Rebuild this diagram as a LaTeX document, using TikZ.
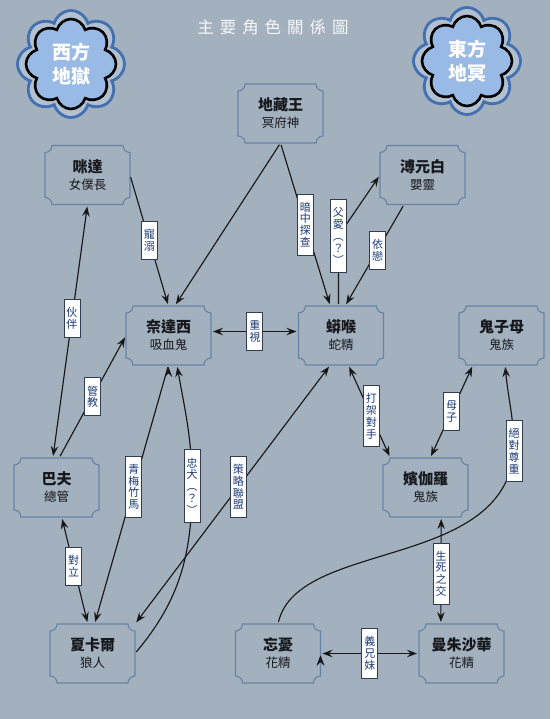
\documentclass[tikz,border=0pt]{standalone}
\usepackage{fontspec}
\setmainfont{Noto Sans CJK TC}
\usetikzlibrary{arrows.meta,shapes.symbols}
\definecolor{bgslate}{RGB}{163,176,190}
\definecolor{roleline}{RGB}{104,130,166}
\definecolor{rolename}{RGB}{22,24,28}
\definecolor{cloudout}{RGB}{66,112,176}
\definecolor{cloudband}{RGB}{178,192,208}
\definecolor{cloudfill}{RGB}{152,186,228}
\definecolor{lbltext}{RGB}{28,58,118}
\definecolor{lblline}{RGB}{50,60,80}
\definecolor{titlewhite}{RGB}{246,248,250}
\begin{document}
\begin{tikzpicture}[x=1pt,y=1pt,>={Stealth[length=10pt,width=7.5pt,inset=3.5pt]},
  role/.style={minimum width=85pt,minimum height=59pt,inner sep=0pt,outer sep=0pt,align=center,
    text=rolename,font=\fontsize{12.5}{17}\selectfont,
    append after command={\pgfextra{\draw[roleline,line width=1.1pt]
      (\tikzlastnode.north west) ++(7pt,0) -- ++(71pt,0)
      arc[start angle=180,end angle=270,radius=7pt] -- ++(0,-45pt)
      arc[start angle=90,end angle=180,radius=7pt] -- ++(-71pt,0)
      arc[start angle=0,end angle=90,radius=7pt] -- ++(0,45pt)
      arc[start angle=270,end angle=360,radius=7pt] -- cycle;}}},
  lbl/.style={draw=lblline,line width=0.8pt,fill=white,text=lbltext,inner xsep=2.5pt,inner ysep=8pt,
    align=center,font=\fontsize{11}{11.8}\selectfont},
  rel/.style={line width=1.15pt,draw=black!90,shorten >=2pt,shorten <=2pt},
  puffout/.style={cloud,cloud puffs=8,aspect=1,draw=cloudout,line width=2.8pt,fill=cloudband,
    minimum width=107pt,minimum height=107pt},
  puffin/.style={cloud,cloud puffs=8,aspect=1,draw=black,line width=2.6pt,fill=cloudfill,
    minimum width=90pt,minimum height=90pt,text=white,align=center,
    font=\bfseries\fontsize{19}{24}\selectfont}]
\fill[bgslate] (0,0) rectangle (550,-719);
\useasboundingbox (0,0) rectangle (550,-719);

% title and the two realms
\node[text=titlewhite,font=\fontsize{16.5}{16.5}\selectfont\addfontfeatures{LetterSpace=36}] (title) at (273,-27) {主要角色關係圖};
\node[puffout] (westring) at (71,-64) {};
\node[puffin] (west) at (71,-64) {西方\\地獄};
\node[puffout] (eastring) at (467,-61) {};
\node[puffin] (east) at (467,-61) {東方\\地冥};

% characters
\node[role] (mida) at (87.5,-175) {{\bfseries\fontsize{15}{17}\selectfont 咪達}\\女僕長};
\node[role] (dizang) at (280.5,-113.5) {{\bfseries\fontsize{15}{17}\selectfont 地藏王}\\冥府神};
\node[role] (buyuan) at (422.5,-175) {{\bfseries\fontsize{15}{17}\selectfont 溥元白}\\嬰靈};
\node[role] (naidaxi) at (168.5,-335.5) {{\bfseries\fontsize{15}{17}\selectfont 奈達西}\\吸血鬼};
\node[role] (manghou) at (341,-335.5) {{\bfseries\fontsize{15}{17}\selectfont 蟒喉}\\蛇精};
\node[role] (guizimu) at (501.5,-335.5) {{\bfseries\fontsize{15}{17}\selectfont 鬼子母}\\鬼族};
\node[role] (bafu) at (56.5,-487.5) {{\bfseries\fontsize{15}{17}\selectfont 巴夫}\\總管};
\node[role] (pinjia) at (425.5,-487.5) {{\bfseries\fontsize{15}{17}\selectfont 嬪伽羅}\\鬼族};
\node[role] (xiakaer) at (92.5,-653.5) {{\bfseries\fontsize{15}{17}\selectfont 夏卡爾}\\狼人};
\node[role] (wangyou) at (278,-653.5) {{\bfseries\fontsize{15}{17}\selectfont 忘憂}\\花精};
\node[role] (manzhu) at (461.5,-653.5) {{\bfseries\fontsize{15}{17}\selectfont 曼朱沙華}\\花精};

% relations
\path[rel,->] (mida.east) edge node[lbl] {寵\\溺} (naidaxi.north)
  (dizang.south) edge (naidaxi.78)
  (dizang.south) edge node[lbl] {暗\\中\\探\\查} (manghou.110)
  (buyuan.238) edge node[lbl,pos=0.45] {依\\戀} (manghou.82)
  (bafu.85) edge node[lbl] {管\\教} (naidaxi.west)
  (naidaxi.south) edge node[lbl,pos=0.47] {青\\梅\\竹\\馬} (xiakaer.86);
\path[rel,<->] ([yshift=4pt]naidaxi.east) edge node[lbl] {重\\視} ([yshift=4pt]manghou.west)
  (bafu.97) edge node[lbl,pos=0.55] {伙\\伴} (mida.south)
  (xiakaer.north east) edge node[lbl,pos=0.53] {策\\略\\聯\\盟} (manghou.250)
  (bafu.-80) edge node[lbl,pos=0.46] {對\\立} (xiakaer.99)
  (manghou.-76) edge node[lbl,pos=0.55] {打\\架\\對\\手} (pinjia.140)
  (guizimu.226) edge node[lbl] {母\\子} (pinjia.81)
  (pinjia.-62) edge node[lbl,pos=0.53] {生\\死\\之\\交} (manzhu.125)
  (wangyou.east) edge node[lbl] {義\\兄\\妹} (manzhu.west);
\draw[rel,->] (manghou.95) -- ++(0,70) node[lbl] {父\\愛\\︵\\？\\︶} -- (buyuan.west);
\coordinate (zhong) at (192,-486);
\draw[rel,->] (xiakaer.east) to[out=50,in=-90] (zhong) to[out=90,in=-80] (naidaxi.-74);
\node[lbl] at (zhong) {忠\\犬\\︵\\？\\︶};
\coordinate (zun) at (514,-451);
\draw[rel,->] (wangyou.north) .. controls +(20,85) and +(-10,-120) .. (zun) to[out=90,in=-85] (guizimu.-83);
\node[lbl] at (zun) {絕\\對\\尊\\重};
\end{tikzpicture}
\end{document}
